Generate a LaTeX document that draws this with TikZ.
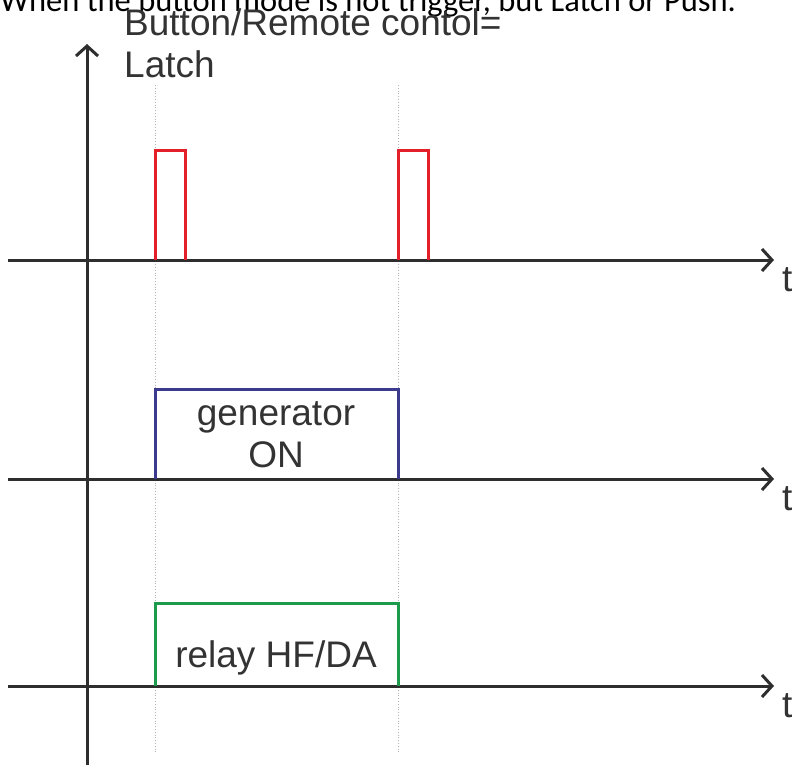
\documentclass[tikz,border=0pt]{standalone}
\usepackage{fontspec}
\setmainfont{Liberation Sans}
\newfontfamily\calib{Carlito}
\usetikzlibrary{arrows.meta}
\definecolor{axisgray}{HTML}{2E2E2E}
\definecolor{sigred}{HTML}{E3202A}
\definecolor{sigblue}{HTML}{3B3A8F}
\definecolor{siggreen}{HTML}{1E9A4C}
\definecolor{txtgray}{HTML}{333333}
\tikzset{
  axisline/.style={draw=axisgray, line width=3pt, -{Straight Barb[length=10pt,width=22pt]}},
  guide/.style={draw=gray!60, line width=0.8pt, dotted},
  sigline/.style={line width=3pt, line join=miter},
  lbl/.style={inner sep=0pt, text=txtgray, font=\fontsize{37}{42}\selectfont},
}
\begin{document}
\begin{tikzpicture}[x=1pt,y=-1pt]
\useasboundingbox (0,0) rectangle (795,765);
\clip (0,0) rectangle (795,765);
% clipped header line
\node[inner sep=0pt, anchor=base west, text=black, font=\calib\fontsize{32.5}{36}\selectfont] (header) at (0,12) {When the button mode is not trigger, but Latch or Push.};
% guides
\coordinate (g1t) at (155,85); \coordinate (g1b) at (155,752);
\coordinate (g2t) at (398,85); \coordinate (g2b) at (398,752);
\draw[guide] (g1t) -- (g1b);
\draw[guide] (g2t) -- (g2b);
% vertical axis
\coordinate (vb) at (87,765); \coordinate (vt) at (87,44);
\draw[axisline] (vb) -- (vt);
% horizontal axes
\coordinate (a1s) at (8,260); \coordinate (a1e) at (774,260);
\coordinate (a2s) at (8,479); \coordinate (a2e) at (774,479);
\coordinate (a3s) at (8,686); \coordinate (a3e) at (774,686);
\draw[axisline] (a1s) -- (a1e);
\draw[axisline] (a2s) -- (a2e);
\draw[axisline] (a3s) -- (a3e);
\node[lbl, anchor=base west] (t1) at (782,291) {t};
\node[lbl, anchor=base west] (t2) at (782,510) {t};
\node[lbl, anchor=base west] (t3) at (782,717) {t};
% signals
\draw[sigline, sigred] (155,260) -- (155,151) -- (185,151) -- (185,260);
\draw[sigline, sigred] (398,260) -- (398,151) -- (428,151) -- (428,260);
\draw[sigline, sigblue] (155,479) -- (155,389) -- (398,389) -- (398,479);
\draw[sigline, siggreen] (155,686) -- (155,603) -- (398,603) -- (398,686);
% labels
\node[lbl, anchor=base west] (title1) at (124,36) {Button/Remote contol=};
\node[lbl, anchor=base west] (title2) at (124,78) {Latch};
\node[lbl, anchor=base] (gen1) at (276,425) {generator};
\node[lbl, anchor=base] (gen2) at (276,467) {ON};
\node[lbl, anchor=base] (relay) at (276,667) {relay HF/DA};
\end{tikzpicture}
\end{document}
